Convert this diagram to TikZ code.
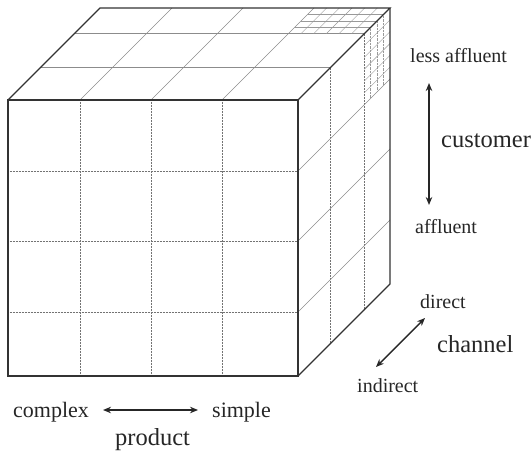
\documentclass[tikz,border=0pt]{standalone}
\usepackage{fontspec}
\setmainfont{Liberation Serif}
\usetikzlibrary{arrows.meta, positioning}

\begin{document}
\begin{tikzpicture}[x=1pt, y=-1pt]
    \tikzstyle{edge} = [draw=black!80, line width=1.3pt, line join=miter]
    \tikzstyle{cellline} = [draw=black!45, line width=0.6pt]
    \tikzstyle{dotline} = [draw=black!55, line width=0.6pt, dash pattern=on 0.8pt off 0.7pt]
    \tikzstyle{fineline} = [draw=black!40, line width=0.4pt]
    \tikzstyle{finedot} = [draw=black!40, line width=0.4pt, dash pattern=on 0.7pt off 0.7pt]
    \tikzstyle{small} = [font=\fontsize{20}{22}\selectfont, text=black!85, inner sep=0pt, anchor=base west]
    \tikzstyle{large} = [font=\fontsize{24.5}{27}\selectfont, text=black!85, inner sep=0pt, anchor=base west]
    \tikzstyle{dim} = [{Stealth[length=8pt,width=6.5pt]}-{Stealth[length=8pt,width=6.5pt]}, line width=1.4pt, draw=black!85]

    \useasboundingbox (0,0) rectangle (532,452);

    % front face grid
    \foreach \x in {80,151,222} \draw[dotline] (\x,100) -- (\x,376);
    \foreach \y in {171,241,312} \draw[dotline] (8,\y) -- (298,\y);

    % top face grid
    \foreach \x in {80,151,222} \draw[cellline] (\x,100) -- ++(92,-92);
    \foreach \f in {0.35,0.72} \draw[cellline] ({8+92*\f},{100-92*\f}) -- ({298+92*\f},{100-92*\f});

    % right face grid
    \foreach \f in {0.35,0.72} \draw[dotline] ({298+92*\f},{100-92*\f}) -- ({298+92*\f},{376-92*\f});
    \foreach \y in {171,241,312} \draw[cellline] (298,\y) -- ++(92,-92);

    % finer cells in the back corner
    \foreach \i in {1,...,5} \draw[fineline] ({222+76*\i/6+92*0.72},{100-92*0.72}) -- ({222+76*\i/6+92},8);
    \foreach \j in {1,2,3} \draw[fineline] ({222+92*(0.72+0.28*\j/4)},{100-92*(0.72+0.28*\j/4)}) -- ({298+92*(0.72+0.28*\j/4)},{100-92*(0.72+0.28*\j/4)});
    \foreach \j in {1,2,3} \draw[finedot] ({298+92*(0.72+0.28*\j/4)},{100-92*(0.72+0.28*\j/4)}) -- ({298+92*(0.72+0.28*\j/4)},{171-92*(0.72+0.28*\j/4)});
    \foreach \k in {1,...,5} \draw[fineline] ({298+92*0.72},{100+71*\k/6-92*0.72}) -- (390,{100+71*\k/6-92});

    % cube outline
    \draw[edge] (8,100) rectangle (298,376);
    \draw[edge] (8,100) -- (100,8) -- (390,8) -- (298,100);
    \draw[edge] (390,8) -- (390,284) -- (298,376);

    % customer axis
    \node (lessaff) [small] at (410,63) {less affluent};
    \node (aff) [small] at (415,233) {affluent};
    \node (customer) [large] at (441,147) {customer};
    \coordinate (custtop) at (429,83);
    \coordinate (custbot) at (429,205);
    \draw[dim] (custtop) -- (custbot);

    % channel axis
    \node (direct) [small] at (420,308) {direct};
    \node (indirect) [small] at (357,392) {indirect};
    \node (channel) [large] at (437,352) {channel};
    \coordinate (chanfar) at (425,318);
    \coordinate (channear) at (376,367);
    \draw[dim] (channear) -- (chanfar);

    % product axis
    \node (complex) [small, font=\fontsize{22}{24}\selectfont] at (13,417) {complex};
    \node (simple) [small, font=\fontsize{22}{24}\selectfont] at (212,417) {simple};
    \node (product) [large] at (115,445) {product};
    \coordinate (prodleft) at (103,410);
    \coordinate (prodright) at (198,410);
    \draw[dim] (prodleft) -- (prodright);
\end{tikzpicture}
\end{document}
